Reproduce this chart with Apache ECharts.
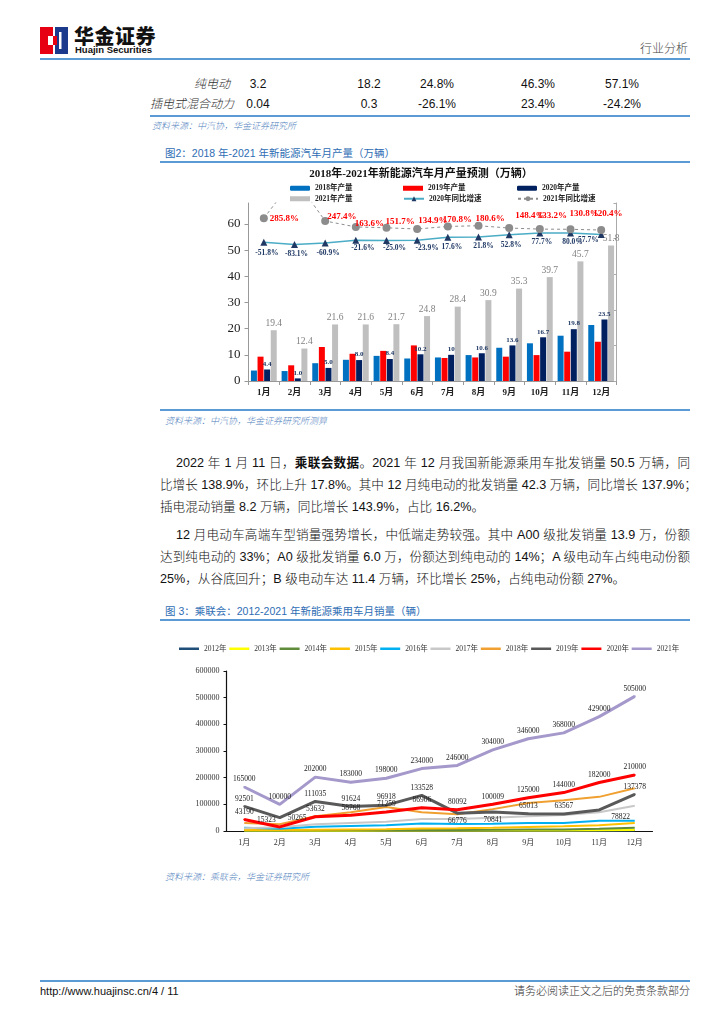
<!DOCTYPE html>
<html><head><meta charset="utf-8">
<script src="https://cdn.jsdelivr.net/npm/echarts@6/dist/echarts.min.js"></script>
<style>
body{margin:0;width:724px;height:1024px;background:#fff;position:relative;overflow:hidden;font-family:"Liberation Sans","Noto Sans CJK SC",sans-serif;color:#111;}
.t{position:absolute;white-space:nowrap;}
.hl{position:absolute;background:#5B9BD5;}
.cap{position:absolute;white-space:nowrap;color:#2E6DB4;font-size:10.5px;line-height:14px;}
.src{position:absolute;white-space:nowrap;color:#4F81BD;font-size:9px;font-style:italic;line-height:12px;font-weight:300;}
.p{position:absolute;left:160px;width:530px;font-size:12.6px;line-height:18px;white-space:nowrap;text-align:justify;text-align-last:justify;color:#111;font-weight:300;}
.p b{font-weight:bold;}
.p.last{text-align-last:left;}
.row{position:absolute;font-size:12px;line-height:16px;white-space:nowrap;}
.lab{font-style:italic;color:#333;font-weight:300;}
#chart{position:absolute;left:0;top:0;width:724px;height:1024px;z-index:2;}
</style></head><body>
<!-- header -->
<svg style="position:absolute;left:40px;top:27px" width="28" height="27" viewBox="0 0 28 27">
  <rect x="0" y="0" width="13" height="27" fill="#E60012"/>
  <rect x="15" y="0" width="13" height="27" fill="#1B3A8C"/>
  <rect x="8" y="9" width="7" height="9" fill="#fff"/>
  <rect x="13" y="9" width="4" height="9" fill="#E60012"/>
  <rect x="19" y="5" width="2.5" height="17" fill="#fff"/>
</svg>
<div class="t" style="left:74px;top:25px;font-size:20px;font-weight:900;line-height:22px;letter-spacing:0.5px;font-family:'Noto Sans CJK SC';">华金证券</div>
<div class="t" style="left:75px;top:45px;font-size:9.5px;font-weight:bold;line-height:10px;font-family:'Liberation Sans';">Huajin Securities</div>
<div class="t" style="left:640px;top:42px;font-size:12px;color:#444;line-height:14px;font-weight:300;">行业分析</div>
<div class="hl" style="left:40px;top:58px;width:650px;height:2px;"></div>

<!-- table rows -->
<div class="row lab" style="left:150px;top:76px;width:80px;text-align:right;">纯电动</div>
<div class="row" style="left:228px;top:76px;width:60px;text-align:center;">3.2</div>
<div class="row" style="left:339px;top:76px;width:60px;text-align:center;">18.2</div>
<div class="row" style="left:407px;top:76px;width:60px;text-align:center;">24.8%</div>
<div class="row" style="left:508px;top:76px;width:60px;text-align:center;">46.3%</div>
<div class="row" style="left:592px;top:76px;width:60px;text-align:center;">57.1%</div>
<div class="row lab" style="left:150px;top:96px;width:80px;text-align:right;">插电式混合动力</div>
<div class="row" style="left:228px;top:96px;width:60px;text-align:center;">0.04</div>
<div class="row" style="left:339px;top:96px;width:60px;text-align:center;">0.3</div>
<div class="row" style="left:407px;top:96px;width:60px;text-align:center;">-26.1%</div>
<div class="row" style="left:508px;top:96px;width:60px;text-align:center;">23.4%</div>
<div class="row" style="left:592px;top:96px;width:60px;text-align:center;">-24.2%</div>
<div class="hl" style="left:150px;top:115px;width:540px;height:1.5px;"></div>
<div class="src" style="left:152px;top:120px;">资料来源：中汽协，华金证券研究所</div>

<!-- figure 2 caption -->
<div class="cap" style="left:165px;top:146px;">图2：2018 年-2021 年新能源汽车月产量（万辆）</div>
<div class="hl" style="left:160px;top:161px;width:530px;height:2px;"></div>
<div class="hl" style="left:160px;top:409px;width:530px;height:1.5px;"></div>
<div class="src" style="left:165px;top:415px;">资料来源：中汽协，华金证券研究所测算</div>

<!-- paragraphs -->
<div class="p" style="top:454px;left:176px;width:514px;">2022 年 1 月 11 日，<b>乘联会数据</b>。2021 年 12 月我国新能源乘用车批发销量 50.5 万辆，同</div>
<div class="p" style="top:476px;">比增长 138.9%，环比上升 17.8%。其中 12 月纯电动的批发销量 42.3 万辆，同比增长 137.9%；</div>
<div class="p last" style="top:498px;">插电混动销量 8.2 万辆，同比增长 143.9%，占比 16.2%。</div>
<div class="p" style="top:526px;left:176px;width:514px;">12 月电动车高端车型销量强势增长，中低端走势较强。其中 A00 级批发销量 13.9 万，份额</div>
<div class="p" style="top:548px;">达到纯电动的 33%；A0 级批发销量 6.0 万，份额达到纯电动的 14%；A 级电动车占纯电动份额</div>
<div class="p last" style="top:570px;">25%，从谷底回升；B 级电动车达 11.4 万辆，环比增长 25%，占纯电动份额 27%。</div>

<!-- figure 3 caption -->
<div class="cap" style="left:165px;top:604px;">图 3：乘联会：2012-2021 年新能源乘用车月销量（辆）</div>
<div class="hl" style="left:160px;top:619px;width:530px;height:2px;"></div>
<div class="src" style="left:165px;top:871px;">资料来源：乘联会，华金证券研究所</div>

<!-- footer -->
<div class="hl" style="left:40px;top:980px;width:650px;height:2px;"></div>
<div class="t" style="left:40px;top:984px;font-size:11px;line-height:14px;">http://www.huajinsc.cn/4 / 11</div>
<div class="t" style="left:490px;top:984px;width:200px;text-align:right;font-size:11px;line-height:14px;color:#333;font-weight:300;">请务必阅读正文之后的免责条款部分</div>

<div id="chart"></div>
<script>
// ---------- Chart 1 data ----------
const months = ['1月','2月','3月','4月','5月','6月','7月','8月','9月','10月','11月','12月'];
const prod2018 = [4.0, 3.8, 6.8, 8.1, 9.6, 8.6, 9.0, 9.9, 12.7, 14.4, 17.3, 21.4];
const prod2019 = [9.3, 6.0, 13.0, 10.4, 11.5, 13.6, 8.8, 9.0, 9.3, 9.9, 11.2, 15.0];
const prod2020 = ['4.4','1.0','5.0','8.0','8.4','10.2','10','10.6','13.6','16.7','19.8','23.5'];
const prod2021 = [19.4, 12.4, 21.6, 21.6, 21.7, 24.8, 28.4, 30.9, 35.3, 39.7, 45.7, 51.8];
const growth2020 = [-51.8, -83.1, -60.9, -21.6, -25.0, -23.9, 17.6, 21.8, 52.8, 77.7, 80.0, 57.7];
const growth2021 = [285.8, 850, 247.4, 163.6, 151.7, 134.9, 170.8, 180.6, 148.4, 133.2, 130.8, 120.4];

// ---------- Chart 2 data ----------
const years2 = ['2012年','2013年','2014年','2015年','2016年','2017年','2018年','2019年','2020年','2021年'];
const s2012 = [500, 600, 800, 700, 800, 900, 800, 900, 1000, 1100, 1200, 1500];
const s2013 = [1000, 1000, 1200, 1300, 1500, 1600, 1500, 1800, 2000, 2300, 2800, 3500];
const s2014 = [2000, 1800, 2500, 3000, 3500, 4000, 4000, 4500, 5500, 6000, 8000, 12000];
const s2015 = [4000, 3500, 5000, 6000, 7000, 9000, 10000, 12000, 15000, 18000, 22000, 30000];
const s2016 = [12000, 8000, 16000, 19000, 22000, 28000, 26000, 27000, 30000, 30000, 38000, 38000];
const s2017 = [10000, 14000, 25000, 30000, 35000, 45000, 45000, 50000, 55000, 60000, 70000, 95000];
const s2018 = [30000, 25000, 55000, 70000, 90000, 70000, 63000, 82000, 105000, 115000, 128000, 160000];
const s2019 = [92501, 50265, 111035, 91624, 96918, 133528, 66776, 70841, 65013, 63567, 78822, 137378];
const s2020 = [43190, 15323, 53632, 58768, 71259, 86906, 80092, 100009, 125000, 144000, 182000, 210000];
const s2021 = [165000, 100000, 202000, 183000, 198000, 234000, 246000, 304000, 346000, 368000, 429000, 505000];

const SERIF = '"Liberation Serif","Noto Sans CJK SC",serif';

// label placement (style config, not data)
const g21Pos = [[-3,0],null,[-7,-4],[-10,-3],[-10,-6],[-8,-8],[-14,-7],[-12,-7],[-3,-12],[-11,-13],[-10,-16],[-17,-16]];
const g20Pos = [[3,-1],[2,-3],[3,-2],[7,-4],[8,-5],[10,-4],[4,-3],[5,-3],[2,-2],[2,-3],[2,-3],null];

function withLabels(values, fn){ return values.map((v,i)=>{ const l = fn(i); return l ? {value:v, label:l} : v; }); }

const chart = echarts.init(document.getElementById('chart'));
const barLabelNavy = {show:true, position:'top', distance:2, fontFamily:SERIF, fontSize:7, fontWeight:'bold', color:'#1F3864', formatter:p=>prod2020[p.dataIndex]};
const barLabelGray = {show:true, position:'top', distance:2, fontFamily:SERIF, fontSize:9.5, color:'#808080'};

const c2Label = {show:true, position:'top', distance:3, fontFamily:SERIF, fontSize:7.5, color:'#222'};
function lineS(name, data, color, width, withLabel){
  return {name, type:'line', xAxisIndex:1, yAxisIndex:2, data, symbol:'circle', symbolSize:withLabel?2:0.1,
    itemStyle:{color}, lineStyle:{color, width}, label: withLabel ? c2Label : {show:false}, z: withLabel?4:3};
}

const legendText = {fontFamily:SERIF, fontSize:7.5, fontWeight:'bold', color:'#222'};
function lg(name, left, top, icon){ return {data:[name], left, top, padding:0, itemGap:0, itemWidth:20, itemHeight:5, icon, textStyle:legendText, selectedMode:false}; }
const legend2 = years2.map((y,i)=>({data:[y], left:179 + i*50.3, top:645, padding:0, itemWidth:20, itemHeight:2.5, icon:'rect',
  selectedMode:false, textStyle:{fontFamily:SERIF, fontSize:7.5, color:'#333'}}));

const option = {
  animation:false,
  graphic:[{type:'text', x:421, y:174, style:{text:'2018年-2021年新能源汽车月产量预测（万辆）', font:'bold 11px '+SERIF, fill:'#111', textAlign:'center', textVerticalAlign:'middle'}}],
  legend:[
    lg('2018年产量',290,184.5,'roundRect'), lg('2019年产量',403,184.5,'rect'), lg('2020年产量',517,184.5,'roundRect'),
    lg('2021年产量',290,195,'rect'),
    {data:['2020年同比增速'], left:403, top:195, padding:0, itemWidth:20, itemHeight:6, textStyle:legendText, selectedMode:false},
    {data:['2021年同比增速'], left:517, top:195, padding:0, itemWidth:20, itemHeight:6, textStyle:legendText, selectedMode:false}
  ].concat(legend2),
  grid:[{left:248.5, top:203, width:368, height:178}, {left:226.5, top:671, width:426, height:160}],
  xAxis:[
    {gridIndex:0, type:'category', data:months, axisLine:{lineStyle:{color:'#999'}}, axisTick:{show:true, length:4, lineStyle:{color:'#999'}},
     axisLabel:{fontFamily:SERIF, fontSize:9, fontWeight:'bold', color:'#222', margin:7}},
    {gridIndex:1, type:'category', data:months, axisLine:{lineStyle:{color:'#111', width:1.2}}, axisTick:{show:false},
     axisLabel:{fontFamily:SERIF, fontSize:8, color:'#333', margin:8}}
  ],
  yAxis:[
    {gridIndex:0, type:'value', min:0, max:68, interval:10, splitLine:{show:false},
     axisLine:{show:true, lineStyle:{color:'#999'}}, axisTick:{show:true, length:4, lineStyle:{color:'#999'}},
     axisLabel:{showMaxLabel:false, fontFamily:SERIF, fontSize:13, color:'#222', margin:8}},
    {gridIndex:0, type:'value', position:'right', min:-2000, max:500, interval:500, splitLine:{show:false},
     axisLine:{show:true, lineStyle:{color:'#aaa'}}, axisTick:{show:true, inside:true, length:3, lineStyle:{color:'#aaa'}}, axisLabel:{show:false}},
    {gridIndex:1, type:'value', min:0, max:600000, interval:100000, splitLine:{show:false},
     axisLine:{show:true, lineStyle:{color:'#111', width:1.2}}, axisTick:{show:true, length:3, lineStyle:{color:'#111'}},
     axisLabel:{fontFamily:SERIF, fontSize:8, color:'#333', margin:7, formatter:v=>String(v)}}
  ],
  series:[
    {name:'2018年产量', type:'bar', xAxisIndex:0, yAxisIndex:0, data:prod2018, barWidth:6, barGap:'10%', itemStyle:{color:'#0070C0'}},
    {name:'2019年产量', type:'bar', xAxisIndex:0, yAxisIndex:0, data:prod2019, barWidth:6, barGap:'10%', itemStyle:{color:'#FF0000'}},
    {name:'2020年产量', type:'bar', xAxisIndex:0, yAxisIndex:0, data:prod2020.map(Number), barWidth:6, barGap:'10%', itemStyle:{color:'#002060'}, label:barLabelNavy},
    {name:'2021年产量', type:'bar', xAxisIndex:0, yAxisIndex:0, data:prod2021, barWidth:6, barGap:'10%', itemStyle:{color:'#BFBFBF'}, label:barLabelGray},
    {name:'2020年同比增速', type:'line', xAxisIndex:0, yAxisIndex:1, z:5,
     data:withLabels(growth2020, i => g20Pos[i] ? {offset:g20Pos[i]} : {position:'left', distance:5, offset:[6,6]}),
     symbol:'triangle', symbolSize:7, itemStyle:{color:'#1F3864'}, lineStyle:{color:'#4BACC6', width:1.5},
     label:{show:true, position:'bottom', distance:5, fontFamily:SERIF, fontSize:7.5, fontWeight:'bold', color:'#1F3864', formatter:p=>p.value.toFixed(1)+'%'}},
    {name:'2021年同比增速', type:'line', xAxisIndex:0, yAxisIndex:1, z:6, clip:true,
     data:withLabels(growth2021, i => g21Pos[i] ? {offset:g21Pos[i]} : {show:false}),
     symbol:'circle', symbolSize:8, itemStyle:{color:'#8C8C8C'}, lineStyle:{color:'#8C8C8C', width:1, type:[3,3]},
     label:{show:true, position:'right', distance:5, fontFamily:SERIF, fontSize:9, fontWeight:'bold', color:'#FF0000', formatter:p=>p.value.toFixed(1)+'%'}},

    lineS('2012年', s2012, '#1F4E79', 2, false),
    lineS('2013年', s2013, '#FFFF00', 2, false),
    lineS('2014年', s2014, '#5E8C3A', 2, false),
    lineS('2015年', s2015, '#FFC000', 2, false),
    lineS('2016年', s2016, '#00B0F0', 2, false),
    lineS('2017年', s2017, '#C8C8C8', 2, false),
    lineS('2018年', s2018, '#F0A030', 2, false),
    lineS('2019年', withLabels(s2019, i => ({1:{position:'right', offset:[4,0]}, 6:{position:'bottom'}, 7:{position:'bottom'}, 10:{position:'right', offset:[8,7]}})[i]), '#595959', 3, true),
    lineS('2020年', withLabels(s2020, i => ({1:{position:'left', offset:[0,-7]}})[i]), '#FF0000', 3, true),
    lineS('2021年', s2021, '#A598CB', 3, true)
  ]
};
chart.setOption(option);
</script>
</body></html>
